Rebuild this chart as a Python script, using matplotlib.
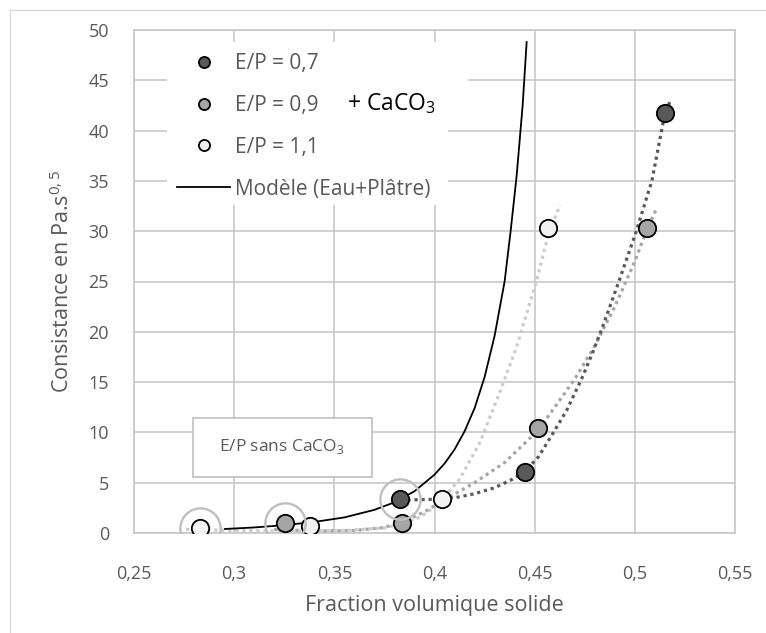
import matplotlib
matplotlib.use("Agg")
import matplotlib.pyplot as plt
from matplotlib.lines import Line2D
from matplotlib.patches import Rectangle
from matplotlib.ticker import FixedLocator, FuncFormatter

plt.rcParams['font.family'] = ['Open Sans', 'DejaVu Sans']

# --- measured points: E/P without CaCO3 (encircled) ---
sans_x = [0.2829, 0.3253, 0.3827]
sans_y = [0.50, 0.95, 3.35]
sans_fill = ['#f2f2f2', '#a5a5a5', '#595959']

# --- measured points with CaCO3 ---
ep07_x = [0.4451, 0.5150]
ep07_y = [6.1, 41.7]
ep09_x = [0.3840, 0.4517, 0.5063]
ep09_y = [1.03, 10.4, 30.35]
ep11_x = [0.3380, 0.4036, 0.4568]
ep11_y = [0.65, 3.35, 30.35]

# --- trend curves ---
tr07_x = [0.383, 0.390, 0.400, 0.410, 0.420, 0.430, 0.4385, 0.4451, 0.452,
          0.4591, 0.466, 0.4736, 0.4791, 0.4841, 0.4922, 0.5004, 0.5085,
          0.515, 0.518]
tr07_y = [3.3, 3.3, 3.35, 3.5, 3.9, 4.5, 5.3, 6.1, 7.6, 9.9, 12.2, 15.4,
          18.0, 20.6, 25.1, 29.8, 35.0, 41.7, 43.1]
tr09_x = [0.320, 0.340, 0.360, 0.375, 0.385, 0.395, 0.405, 0.420, 0.435,
          0.4517, 0.460, 0.470, 0.480, 0.490, 0.500, 0.5063, 0.511]
tr09_y = [0.35, 0.2, 0.25, 0.55, 1.2, 2.1, 3.3, 5.0, 7.0, 10.2, 12.5,
          15.3, 18.6, 22.5, 27.0, 30.3, 32.3]
tr11_x = [0.276, 0.300, 0.330, 0.355, 0.375, 0.385, 0.393, 0.4027, 0.4127,
          0.4227, 0.4326, 0.441, 0.451, 0.4566, 0.4626]
tr11_y = [0.35, 0.25, 0.2, 0.25, 0.5, 1.0, 1.6, 3.0, 5.4, 9.0, 14.0,
          18.5, 25.1, 29.5, 32.6]

# --- model (water + plaster) ---
model_x = [0.2954, 0.310, 0.325, 0.340, 0.355, 0.370, 0.380, 0.390, 0.400,
           0.405, 0.410, 0.415, 0.420, 0.425, 0.430, 0.435, 0.438, 0.441,
           0.444, 0.446]
model_y = [0.40, 0.55, 0.78, 1.1, 1.55, 2.3, 3.05, 4.15, 5.8, 6.9, 8.3,
           10.1, 12.4, 15.5, 19.6, 25.0, 30.0, 35.5, 42.5, 48.8]

x_ticks = [0.25, 0.30, 0.35, 0.40, 0.45, 0.50, 0.55]
y_ticks = [0, 5, 10, 15, 20, 25, 30, 35, 40, 45, 50]

TXT = '#595959'
GRID = '#c8c8c8'

fig = plt.figure(figsize=(7.66, 6.33), dpi=100)
W, H = 766, 633
L, R, T, B = 134, 735, 30, 533
ax = fig.add_axes([L / W, 1 - B / H, (R - L) / W, (B - T) / H])

# chart-area border
fig.patches.append(Rectangle((10 / W, -0.2), 1.2, 1 - 10 / H + 0.2,
                             transform=fig.transFigure, fill=False,
                             edgecolor='#d9d9d9', lw=1.0))

ax.set_xlim(0.25, 0.55)
ax.set_ylim(0, 50)
ax.xaxis.set_major_locator(FixedLocator(x_ticks))
ax.yaxis.set_major_locator(FixedLocator(y_ticks))
ax.xaxis.set_major_formatter(FuncFormatter(lambda v, p: ('%g' % round(v, 2)).replace('.', ',')))
ax.yaxis.set_major_formatter(FuncFormatter(lambda v, p: '%d' % v))
ax.tick_params(length=0, labelsize=13, labelcolor=TXT)
ax.tick_params(axis='x', pad=23)
ax.tick_params(axis='y', pad=18)
ax.grid(True, color=GRID, lw=1.2)
ax.set_axisbelow(True)
for s in ax.spines.values():
    s.set_color(GRID)
    s.set_linewidth(1.2)

ax.set_xlabel('Fraction volumique solide', fontsize=15.5, color=TXT, labelpad=9)
ax.set_ylabel('Consistance en Pa.s$^\\mathregular{0,5}$', fontsize=15.5, color=TXT)
ax.yaxis.set_label_coords(-0.10, 0.50, transform=ax.transAxes)


def axfrac(px, py):
    return ((px - L) / (R - L), (B - py) / (B - T))


def white_box(px0, py0, px1, py1, edge='none'):
    x0, y1 = axfrac(px0, py0)
    x1, y0 = axfrac(px1, py1)
    ax.add_patch(Rectangle((x0, y0), x1 - x0, y1 - y0, transform=ax.transAxes,
                           facecolor='white', edgecolor=edge, lw=1.2,
                           zorder=1 if edge == 'none' else 6.5))


# white backgrounds of the legend and the "+ CaCO3" label
white_box(167, 42, 448, 205)
white_box(330, 68, 468, 125)

# trend curves
dots = dict(lw=2.3, dashes=(1.0, 1.2), dash_capstyle='butt', zorder=3)
ax.plot(tr11_x, tr11_y, color='#cccccc', **dots)
ax.plot(tr09_x, tr09_y, color='#a6a6a6', **dots)
ax.plot(tr07_x, tr07_y, color='#595959', **dots)

# model
ax.plot(model_x, model_y, color='black', lw=1.3, zorder=4)

# points
mk = dict(marker='o', ms=12.5, mec='black', mew=1.3, ls='none', zorder=5)
ax.plot(ep11_x, ep11_y, mfc='#f2f2f2', **mk)
ax.plot(ep09_x, ep09_y, mfc='#a5a5a5', **mk)
ax.plot(ep07_x, ep07_y, mfc='#595959', **mk)
for x, y, c in zip(sans_x, sans_y, sans_fill):
    ax.plot([x], [y], mfc=c, **mk)
ax.plot(sans_x, sans_y, marker='o', ms=29, mfc='none', mec='#bfbfbf',
        mew=1.7, ls='none', zorder=6)

# legend
handles = [
    Line2D([], [], marker='o', ms=8, mfc='#595959', mec='black', mew=1.3, ls='none'),
    Line2D([], [], marker='o', ms=8, mfc='#a5a5a5', mec='black', mew=1.3, ls='none'),
    Line2D([], [], marker='o', ms=8, mfc='#f2f2f2', mec='black', mew=1.3, ls='none'),
    Line2D([], [], color='black', lw=1.3),
]
labels = ['E/P = 0,7', 'E/P = 0,9', 'E/P = 1,1', 'Modèle (Eau+Plâtre)']
lx, ly = axfrac(177, 53)
leg = ax.legend(handles, labels, loc='upper left', bbox_to_anchor=(lx, ly),
                frameon=False, fontsize=15, labelcolor=TXT, handlelength=2.55,
                handletextpad=0.25, labelspacing=1.0, borderpad=0,
                borderaxespad=0)
leg.set_zorder(7)

tx, ty = axfrac(347, 104)
ax.text(tx, ty, '+ CaCO$_\\mathregular{3}$', transform=ax.transAxes,
        fontsize=16.5, color='black', ha='left', va='center', zorder=7)

# "E/P sans CaCO3" box
white_box(193, 418, 372, 477, edge='#bfbfbf')
bx, by = axfrac(282, 447)
ax.text(bx, by, 'E/P sans CaCO$_\\mathregular{3}$', transform=ax.transAxes,
        fontsize=12.5, color=TXT, ha='center', va='center', zorder=7)

fig.savefig('out.png', dpi=100)
